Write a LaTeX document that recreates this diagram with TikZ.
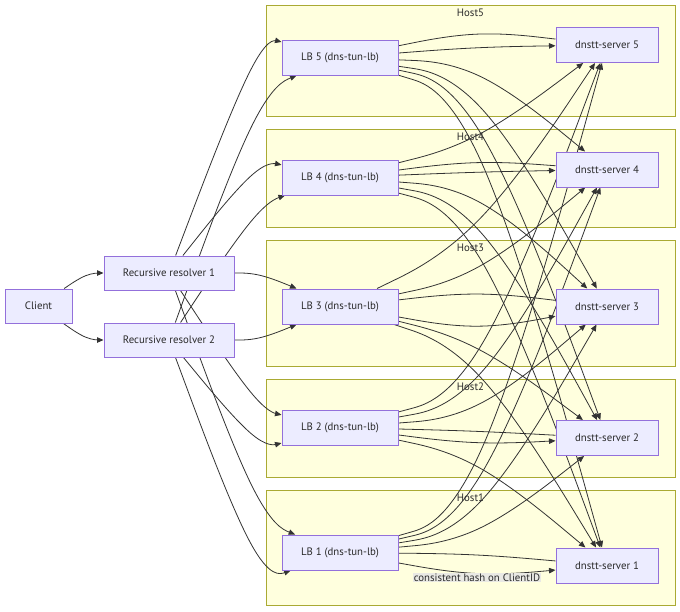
\documentclass[tikz,border=0pt]{standalone}
\usepackage{fontspec}
\setmainfont{PT Sans}
\usetikzlibrary{arrows.meta,calc}
\pgfdeclarelayer{bg}
\pgfdeclarelayer{edgelayer}
\pgfsetlayers{bg,edgelayer,main}
\definecolor{nodefill}{HTML}{ECECFF}
\definecolor{nodeline}{HTML}{9370DB}
\definecolor{clusterfill}{HTML}{FFFFDE}
\definecolor{clusterline}{HTML}{AAAA33}
\definecolor{edgecol}{HTML}{333333}
\definecolor{txt}{HTML}{2A2A2A}
\definecolor{labelbg}{HTML}{E9E9E4}
% basis-style curve: source node, midpoint, target node, style
\newcommand\mmedge[4]{%
  \path (#1) -- (#2) coordinate[pos=0] (eA);
  \path (#3) -- (#2) coordinate[pos=0] (eB);
  \coordinate (eM) at (#2);
  \path ($(eA)!0.5!(eB)$) coordinate (eH);
  \draw[conn,#4] (eA) -- ($(eA)!0.16667!(eM)$)
    .. controls ($(eA)!0.33333!(eM)$) and ($(eA)!0.66667!(eM)$) .. ($(eM)!0.33333!(eH)$)
    .. controls ($(eM)!0.33333!(eB)$) and ($(eM)!0.66667!(eB)$) .. ($(eM)!0.83333!(eB)$)
    -- (eB);
}
\begin{document}
\begin{tikzpicture}[x=1pt,y=-1pt,
  box/.style={draw=nodeline,fill=nodefill,line width=1pt,inner sep=0pt,
    minimum height=34pt,text=txt,font=\fontsize{10.8}{12}\selectfont},
  lbbox/.style={box,minimum width=116pt,minimum height=35pt},
  srvbox/.style={box,minimum width=102pt,minimum height=35pt},
  cluster/.style={draw=clusterline,fill=clusterfill,line width=1pt,inner sep=0pt,minimum width=409pt},
  clabel/.style={text=txt,font=\fontsize{10.8}{12}\selectfont,inner sep=0pt},
  elabel/.style={fill=labelbg,text=txt,font=\fontsize{10.8}{12}\selectfont,inner sep=0.8pt},
  conn/.style={draw=edgecol,line width=0.8pt},
  witharrow/.style={-{Triangle[length=6.5pt,width=5.5pt]}},
  noarrow/.style={}]
\useasboundingbox (0,0) rectangle (680,611);

% nodes
\node[box,minimum width=67pt] (client) at (38.5,306) {Client};
\node[box,minimum width=130pt] (r1) at (169,273) {Recursive resolver 1};
\node[box,minimum width=130pt] (r2) at (169,340) {Recursive resolver 2};
\node[lbbox] (lb5) at (340,57.5) {LB 5 (dns-tun-lb)};
\node[lbbox] (lb4) at (340,177.5) {LB 4 (dns-tun-lb)};
\node[lbbox] (lb3) at (340,306.5) {LB 3 (dns-tun-lb)};
\node[lbbox] (lb2) at (340,427.5) {LB 2 (dns-tun-lb)};
\node[lbbox] (lb1) at (340,552.5) {LB 1 (dns-tun-lb)};
\node[srvbox] (s5) at (607,45) {dnstt-server 5};
\node[srvbox] (s4) at (607,169.5) {dnstt-server 4};
\node[srvbox] (s3) at (607,306.5) {dnstt-server 3};
\node[srvbox] (s2) at (607,438) {dnstt-server 2};
\node[srvbox] (s1) at (607,565.5) {dnstt-server 1};

\begin{pgfonlayer}{bg}
\fill[white] (0,0) rectangle (680,611);
\node[cluster,minimum height=111pt] (host5) at (470.5,60.5) {};
\node[cluster,minimum height=98pt] (host4) at (470.5,178) {};
\node[cluster,minimum height=126pt] (host3) at (470.5,303) {};
\node[cluster,minimum height=98pt] (host2) at (470.5,428) {};
\node[cluster,minimum height=115pt] (host1) at (470.5,547.5) {};
\node[clabel] (host5l) at (470.5,12.5) {Host5};
\node[clabel] (host4l) at (470.5,136.5) {Host4};
\node[clabel] (host3l) at (470.5,247.5) {Host3};
\node[clabel] (host2l) at (470.5,386.5) {Host2};
\node[clabel] (host1l) at (470.5,497.5) {Host1};
\end{pgfonlayer}

\begin{pgfonlayer}{edgelayer}
\mmedge{client}{87,273}{r1}{witharrow}
\mmedge{client}{87,340}{r2}{witharrow}
\mmedge{r1}{259,36}{lb5}{witharrow}
\mmedge{r1}{259,160}{lb4}{witharrow}
\mmedge{r1}{259,273}{lb3}{witharrow}
\mmedge{r1}{259,410}{lb2}{witharrow}
\mmedge{r1}{259,520}{lb1}{witharrow}
\mmedge{r2}{259,91}{lb5}{witharrow}
\mmedge{r2}{259,204}{lb4}{witharrow}
\mmedge{r2}{259,340}{lb3}{witharrow}
\mmedge{r2}{259,449}{lb2}{witharrow}
\mmedge{r2}{259,582}{lb1}{witharrow}
\mmedge{lb5}{477,30}{s5}{noarrow}
\mmedge{lb5}{477,47}{s5}{witharrow}
\mmedge{lb5}{477,63}{s4}{witharrow}
\mmedge{lb5}{477,78}{s3}{witharrow}
\mmedge{lb5}{477,87}{s2}{witharrow}
\mmedge{lb5}{477,99}{s1}{witharrow}
\mmedge{lb4}{477,143}{s5}{witharrow}
\mmedge{lb4}{477,160}{s4}{noarrow}
\mmedge{lb4}{477,172}{s4}{witharrow}
\mmedge{lb4}{477,188}{s3}{witharrow}
\mmedge{lb4}{477,202}{s2}{witharrow}
\mmedge{lb4}{477,214}{s1}{witharrow}
\mmedge{lb3}{477,240}{s5}{witharrow}
\mmedge{lb3}{477,277}{s4}{witharrow}
\mmedge{lb3}{477,291}{s3}{noarrow}
\mmedge{lb3}{477,331}{s3}{witharrow}
\mmedge{lb3}{477,341}{s2}{witharrow}
\mmedge{lb3}{477,352}{s1}{witharrow}
\mmedge{lb2}{477,391}{s5}{witharrow}
\mmedge{lb2}{477,403}{s4}{witharrow}
\mmedge{lb2}{477,417}{s3}{witharrow}
\mmedge{lb2}{477,431}{s2}{noarrow}
\mmedge{lb2}{477,445}{s2}{witharrow}
\mmedge{lb2}{477,457}{s1}{witharrow}
\mmedge{lb1}{477,513}{s5}{witharrow}
\mmedge{lb1}{477,521}{s4}{witharrow}
\mmedge{lb1}{477,530}{s3}{witharrow}
\mmedge{lb1}{477,540}{s2}{witharrow}
\mmedge{lb1}{477,554}{s1}{noarrow}
\mmedge{lb1}{477,577}{s1}{witharrow}
\end{pgfonlayer}

\node[elabel] (hashlbl) at (477,577.5) {consistent hash on ClientID};
\end{tikzpicture}
\end{document}
